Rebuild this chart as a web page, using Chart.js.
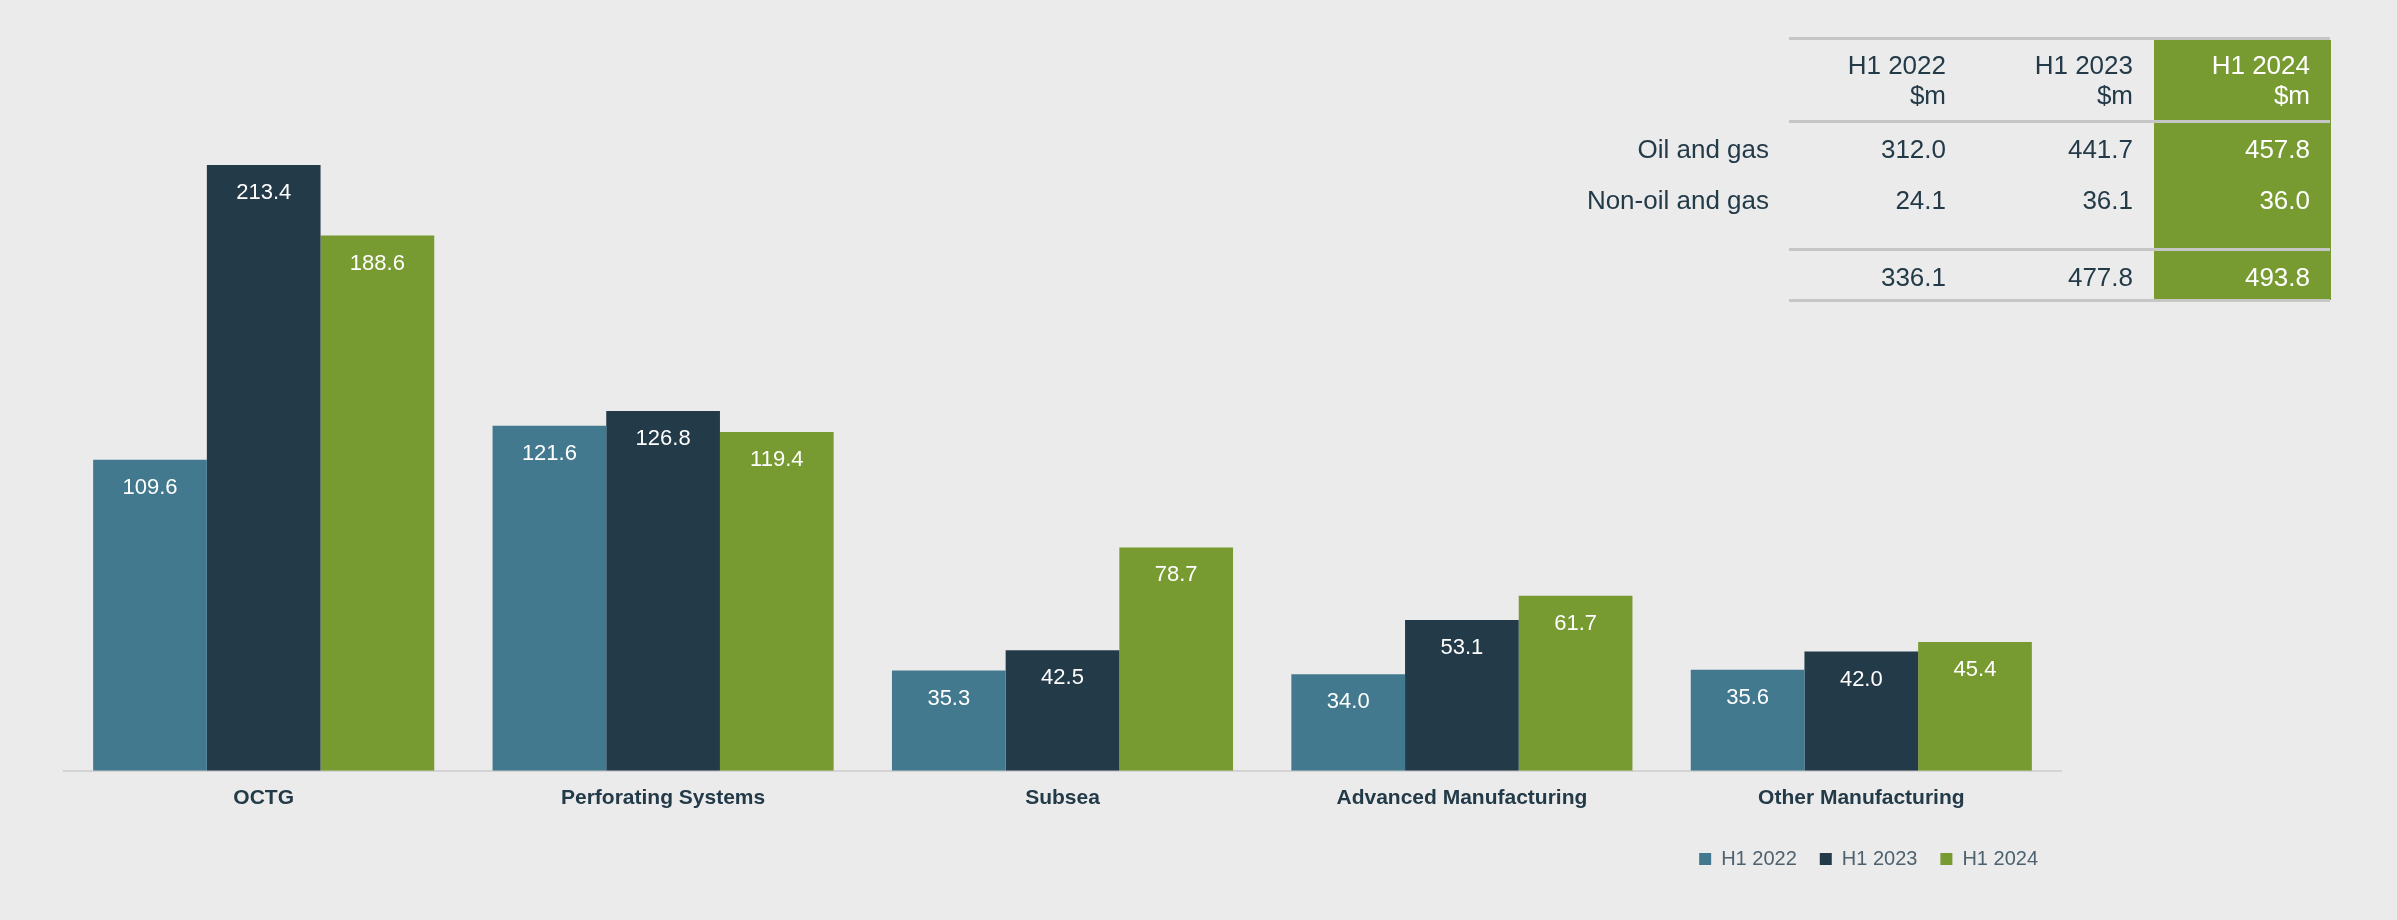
<!DOCTYPE html>
<html>
<head>
<meta charset="utf-8">
<script src="https://cdn.jsdelivr.net/npm/chart.js@4.4.1/dist/chart.umd.min.js"></script>
<style>
  html, body { margin: 0; padding: 0; background: #ebebeb; }
  body { width: 2397px; height: 920px; position: relative; overflow: hidden; font-family: "Liberation Sans", Arial, sans-serif; }
  #wrap { position: absolute; left: 0; top: 0; width: 2397px; height: 920px; }
  .cell { position: absolute; font-size: 26px; line-height: 30px; color: #233a48; white-space: nowrap; text-align: right; }
  .cell.hi { color: #ffffff; }
  .rule { position: absolute; left: 1789px; width: 541px; height: 3px; background: #c6c6c6; }
  .band { position: absolute; left: 2154px; top: 40px; width: 177px; height: 260px; background: #789b31; }
</style>
</head>
<body>
<div id="wrap"><canvas id="myChart" width="2397" height="920"></canvas></div>
<div id="summary"></div>
<script>
// bar chart data
const categories = ['OCTG', 'Perforating Systems', 'Subsea', 'Advanced Manufacturing', 'Other Manufacturing'];
const h1_2022 = [109.6, 121.6, 35.3, 34.0, 35.6];
const h1_2023 = [213.4, 126.8, 42.5, 53.1, 42.0];
const h1_2024 = [188.6, 119.4, 78.7, 61.7, 45.4];
const seriesNames = ['H1 2022', 'H1 2023', 'H1 2024'];
const seriesColors = ['#42798e', '#233a48', '#789b31'];

// summary table data
const tableRowLabels = ['Oil and gas', 'Non-oil and gas', ''];
const oilGas = [312.0, 441.7, 457.8];
const nonOilGas = [24.1, 36.1, 36.0];
const totals = [336.1, 477.8, 493.8];

Chart.defaults.font.family = '"Liberation Sans", Arial, sans-serif';

// white value labels just inside the top of each bar
const barLabels = {
  id: 'barLabels',
  afterDatasetsDraw(chart) {
    const ctx = chart.ctx;
    ctx.save();
    ctx.font = '22px "Liberation Sans", Arial, sans-serif';
    ctx.fillStyle = '#ffffff';
    ctx.textAlign = 'center';
    ctx.textBaseline = 'middle';
    chart.data.datasets.forEach((ds, i) => {
      chart.getDatasetMeta(i).data.forEach((bar, j) => {
        ctx.fillText(ds.data[j].toFixed(1), bar.x, bar.y + 28);
      });
    });
    ctx.restore();
  }
};

const seriesData = [h1_2022, h1_2023, h1_2024];
const ctx = document.getElementById('myChart');
const myChart = new Chart(ctx, {
  type: 'bar',
  data: {
    labels: categories,
    datasets: seriesNames.map((name, i) => ({
      label: name,
      data: seriesData[i],
      backgroundColor: seriesColors[i],
      borderWidth: 0,
      categoryPercentage: 0.854,
      barPercentage: 1.0
    }))
  },
  options: {
    responsive: false,
    animation: false,
    layout: { padding: { left: 64, right: 336, top: 118, bottom: 41 } },
    scales: {
      x: {
        grid: { display: false, drawTicks: false },
        border: { display: true, color: '#d4d4d4', width: 2 },
        ticks: { color: '#233a48', font: { size: 21, weight: 'bold' }, padding: 15 }
      },
      y: { display: false, min: 0, max: 230 }
    },
    plugins: {
      legend: {
        position: 'bottom',
        align: 'end',
        labels: { boxWidth: 12, boxHeight: 12, padding: 23, color: '#4d616e', font: { size: 20 } }
      },
      tooltip: { enabled: false }
    }
  },
  plugins: [barLabels]
});

// summary table in the top right corner
const summary = document.getElementById('summary');
const colRight = [1946, 2133, 2310];
const rowTop = [134, 185, 262];
let html = '<div class="band"></div>';
[37, 120, 248, 299].forEach(t => { html += `<div class="rule" style="top:${t}px"></div>`; });
seriesNames.forEach((name, c) => {
  html += `<div class="cell${c === 2 ? ' hi' : ''}" style="right:${2397 - colRight[c]}px;top:50px">${name}<br>$m</div>`;
});
const rows = [oilGas, nonOilGas, totals];
rows.forEach((vals, r) => {
  if (tableRowLabels[r]) {
    html += `<div class="cell" style="right:${2397 - 1769}px;top:${rowTop[r]}px">${tableRowLabels[r]}</div>`;
  }
  vals.forEach((v, c) => {
    html += `<div class="cell${c === 2 ? ' hi' : ''}" style="right:${2397 - colRight[c]}px;top:${rowTop[r]}px">${v.toFixed(1)}</div>`;
  });
});
summary.innerHTML = html;
</script>
</body>
</html>
